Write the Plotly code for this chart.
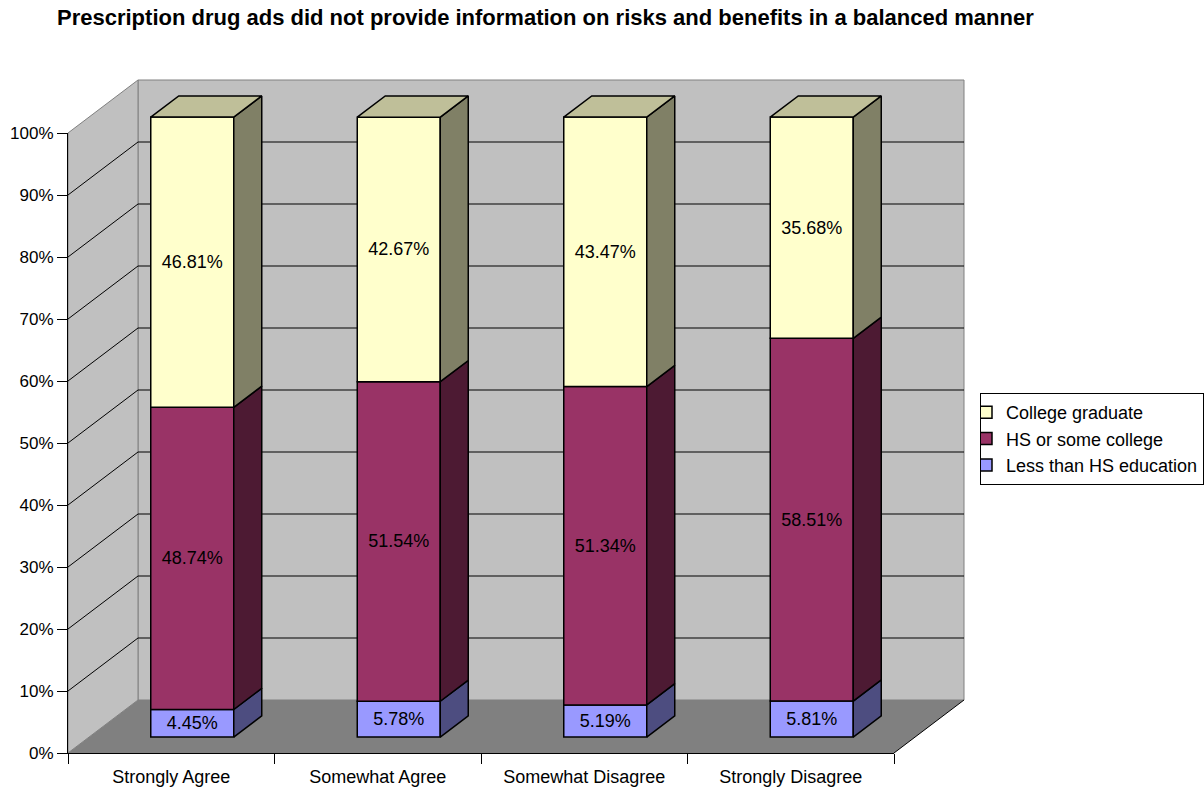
import plotly.graph_objects as go

# ---------------- data ----------------
categories = ["Strongly Agree", "Somewhat Agree", "Somewhat Disagree", "Strongly Disagree"]
series_names = ["Less than HS education", "HS or some college", "College graduate"]
less_hs = [4.45, 5.78, 5.19, 5.81]
hs_some = [48.74, 51.54, 51.34, 58.51]
college = [46.81, 42.67, 43.47, 35.68]
y_tick_values = [0, 10, 20, 30, 40, 50, 60, 70, 80, 90, 100]
title_text = "Prescription drug ads did not provide information on risks and benefits in a balanced manner"

series_values = [less_hs, hs_some, college]

# ---------------- styles ----------------
front_colors = ["#9999FF", "#993366", "#FFFFCC"]
side_colors = ["#4D4D80", "#4D1A33", "#808066"]
top_color = "#BFBF99"
wall_color = "#C0C0C0"
floor_color = "#808080"
edge_gray = "#808080"
FONT = "Liberation Sans, Arial, sans-serif"

# ---------------- geometry (pixels) ----------------
W, H = 1204, 792
FL, FR, FB, FT = 68, 894, 753, 133      # front plane of the 3-D box
DXP, DYP = 70, 53                       # depth offset of the box
PAD = 4
cat_px = (FR - FL) / len(categories)
pct_px = FB - FT
DX = DXP / cat_px
DY = DYP / pct_px
F0, F1 = 0.30, 0.70                     # depth of bar front / back faces
BAR_W = 83 / cat_px

ml = FL - PAD
mr = W - (FR + DXP + PAD)
mt = FT - DYP - PAD
mb = H - (FB + PAD)
pw = W - ml - mr
ph = H - mt - mb

n = len(categories)
x_lo, x_hi = -0.5, n - 0.5

fig = go.Figure()

# ---------------- walls & floor (shapes in box axes) ----------------
shapes = []
def poly(pts):
    return "M " + " L ".join(f"{x},{y}" for x, y in pts) + " Z"

# back wall
shapes.append(dict(type="path", xref="x", yref="y", layer="below",
                   path=poly([(x_lo + DX, DY), (x_hi + DX, DY), (x_hi + DX, 1 + DY), (x_lo + DX, 1 + DY)]),
                   fillcolor=wall_color, line=dict(color=edge_gray, width=1)))
# left wall
shapes.append(dict(type="path", xref="x", yref="y", layer="below",
                   path=poly([(x_lo, 0), (x_lo, 1), (x_lo + DX, 1 + DY), (x_lo + DX, DY)]),
                   fillcolor=wall_color, line=dict(color=edge_gray, width=1)))
# floor
shapes.append(dict(type="path", xref="x", yref="y", layer="below",
                   path=poly([(x_lo, 0), (x_hi, 0), (x_hi + DX, DY), (x_lo + DX, DY)]),
                   fillcolor=floor_color, line=dict(color=floor_color, width=0)))
# floor right edge
shapes.append(dict(type="line", xref="x", yref="y", layer="below",
                   x0=x_hi, y0=0, x1=x_hi + DX, y1=DY, line=dict(color="black", width=1)))
# gridlines
for t in y_tick_values[1:-1]:
    v = t / 100
    shapes.append(dict(type="path", xref="x", yref="y", layer="below",
                       path=f"M {x_lo},{v} L {x_lo + DX},{v + DY} L {x_hi + DX},{v + DY}",
                       line=dict(color="black", width=1)))

# ---------------- bars ----------------
bar_x = [i + F0 * DX for i in range(n)]
ddx = (F1 - F0) * DX
ddy = (F1 - F0) * DY
cum = [0.0] * n
for s, (name, vals) in enumerate(zip(series_names, series_values)):
    bases = [F0 * DY + c / 100 for c in cum]
    fig.add_trace(go.Bar(
        x=bar_x, y=[v / 100 for v in vals], base=bases, width=BAR_W,
        name=name, legendgroup=name, legendrank=len(series_names) - s,
        marker=dict(color=front_colors[s], line=dict(color="black", width=1.5)),
        text=[f"{v:.2f}%" for v in vals], textposition="inside", insidetextanchor="middle",
        textangle=0, constraintext="none",
        textfont=dict(family=FONT, size=18, color="black"),
        hoverinfo="skip", xaxis="x", yaxis="y"))
    # side faces
    sx, sy = [], []
    for i in range(n):
        xr = bar_x[i] + BAR_W / 2
        yb = bases[i]
        yt = bases[i] + vals[i] / 100
        sx += [xr, xr, xr + ddx, xr + ddx, xr, None]
        sy += [yb, yt, yt + ddy, yb + ddy, yb, None]
    fig.add_trace(go.Scatter(x=sx, y=sy, mode="lines", fill="toself", fillcolor=side_colors[s],
                             line=dict(color="black", width=1.5), showlegend=False,
                             hoverinfo="skip", xaxis="x", yaxis="y"))
    cum = [c + v for c, v in zip(cum, vals)]

# top faces
tx, ty = [], []
for i in range(n):
    xl = bar_x[i] - BAR_W / 2
    xr = bar_x[i] + BAR_W / 2
    yt = F0 * DY + cum[i] / 100
    tx += [xl, xr, xr + ddx, xl + ddx, xl, None]
    ty += [yt, yt, yt + ddy, yt + ddy, yt, None]
fig.add_trace(go.Scatter(x=tx, y=ty, mode="lines", fill="toself", fillcolor=top_color,
                         line=dict(color="black", width=1.5), showlegend=False,
                         hoverinfo="skip", xaxis="x", yaxis="y"))

# invisible trace carrying the visible category axis
fig.add_trace(go.Scatter(x=categories, y=[0.5] * n, mode="markers", marker=dict(opacity=0),
                         showlegend=False, hoverinfo="skip", xaxis="x2", yaxis="y2"))

fig.update_layout(
    width=W, height=H,
    margin=dict(l=ml, r=mr, t=mt, b=mb, autoexpand=False),
    paper_bgcolor="white", plot_bgcolor="rgba(0,0,0,0)",
    barmode="overlay",
    shapes=shapes,
    font=dict(family=FONT, size=18, color="black"),
    title=dict(text=f"<b>{title_text}</b>", x=57 / W, xanchor="left", xref="container",
               y=1 - 17 / H, yanchor="middle", yref="container",
               font=dict(family=FONT, size=22, color="black")),
    xaxis=dict(domain=[0, 1], range=[x_lo - PAD / cat_px, x_hi + (DXP + PAD) / cat_px],
               visible=False, fixedrange=True),
    yaxis=dict(domain=[0, 1], range=[-PAD / pct_px, 1 + (DYP + PAD) / pct_px],
               visible=False, fixedrange=True),
    xaxis2=dict(domain=[PAD / pw, (PAD + FR - FL) / pw], anchor="y2", type="category",
                categoryorder="array", categoryarray=categories, range=[-0.5, n - 0.5],
                tickson="boundaries", ticks="outside", ticklen=10, tickcolor="black",
                ticklabelstandoff=7,
                showline=True, linecolor="black", linewidth=1, showgrid=False, zeroline=False,
                tickfont=dict(family=FONT, size=18, color="black"), fixedrange=True),
    yaxis2=dict(domain=[PAD / ph, (PAD + FB - FT) / ph], anchor="x2", range=[0, 1],
                tickvals=[t / 100 for t in y_tick_values], ticktext=[f"{t}%" for t in y_tick_values],
                ticks="outside", ticklen=10, tickcolor="black",
                showline=True, linecolor="black", linewidth=1, showgrid=False, zeroline=False,
                tickfont=dict(family=FONT, size=17, color="black"), fixedrange=True),
    legend=dict(x=(980 - ml) / pw, xanchor="left", y=(H - mb - 393) / ph, yanchor="top",
                bgcolor="white", bordercolor="black", borderwidth=1,
                font=dict(family=FONT, size=18, color="black"),
                traceorder="grouped", tracegroupgap=0, itemwidth=30, indentation=-15),
    showlegend=True,
)

fig.write_html("out.html")
